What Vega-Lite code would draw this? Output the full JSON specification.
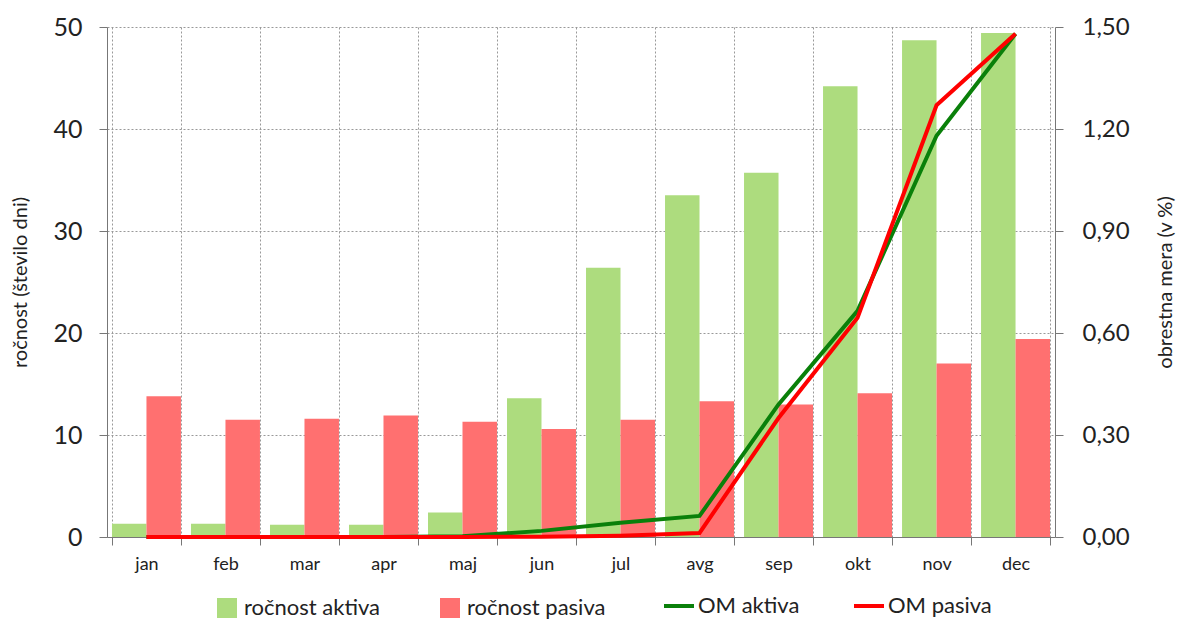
{
  "$schema": "https://vega.github.io/schema/vega-lite/v6.json",
  "autosize": "none",
  "width": 948,
  "height": 510,
  "padding": {"left": 107, "top": 27, "right": 134, "bottom": 82},
  "config": {"font": "Lato", "view": {"stroke": null}},
  "datasets": {
    "bars": [
      {"mesec": "jan", "serija": "ročnost aktiva", "vrednost": 1.3},
      {"mesec": "jan", "serija": "ročnost pasiva", "vrednost": 13.8},
      {"mesec": "feb", "serija": "ročnost aktiva", "vrednost": 1.3},
      {"mesec": "feb", "serija": "ročnost pasiva", "vrednost": 11.5},
      {"mesec": "mar", "serija": "ročnost aktiva", "vrednost": 1.2},
      {"mesec": "mar", "serija": "ročnost pasiva", "vrednost": 11.6},
      {"mesec": "apr", "serija": "ročnost aktiva", "vrednost": 1.2},
      {"mesec": "apr", "serija": "ročnost pasiva", "vrednost": 11.9},
      {"mesec": "maj", "serija": "ročnost aktiva", "vrednost": 2.4},
      {"mesec": "maj", "serija": "ročnost pasiva", "vrednost": 11.3},
      {"mesec": "jun", "serija": "ročnost aktiva", "vrednost": 13.6},
      {"mesec": "jun", "serija": "ročnost pasiva", "vrednost": 10.6},
      {"mesec": "jul", "serija": "ročnost aktiva", "vrednost": 26.4},
      {"mesec": "jul", "serija": "ročnost pasiva", "vrednost": 11.5},
      {"mesec": "avg", "serija": "ročnost aktiva", "vrednost": 33.5},
      {"mesec": "avg", "serija": "ročnost pasiva", "vrednost": 13.3},
      {"mesec": "sep", "serija": "ročnost aktiva", "vrednost": 35.7},
      {"mesec": "sep", "serija": "ročnost pasiva", "vrednost": 13.0},
      {"mesec": "okt", "serija": "ročnost aktiva", "vrednost": 44.2},
      {"mesec": "okt", "serija": "ročnost pasiva", "vrednost": 14.1},
      {"mesec": "nov", "serija": "ročnost aktiva", "vrednost": 48.7},
      {"mesec": "nov", "serija": "ročnost pasiva", "vrednost": 17.0},
      {"mesec": "dec", "serija": "ročnost aktiva", "vrednost": 49.4},
      {"mesec": "dec", "serija": "ročnost pasiva", "vrednost": 19.4}
    ],
    "lines": [
      {"mesec": "jan", "serija": "OM aktiva", "vrednost": 0.0},
      {"mesec": "feb", "serija": "OM aktiva", "vrednost": 0.0},
      {"mesec": "mar", "serija": "OM aktiva", "vrednost": 0.0},
      {"mesec": "apr", "serija": "OM aktiva", "vrednost": 0.0},
      {"mesec": "maj", "serija": "OM aktiva", "vrednost": 0.002},
      {"mesec": "jun", "serija": "OM aktiva", "vrednost": 0.018},
      {"mesec": "jul", "serija": "OM aktiva", "vrednost": 0.042},
      {"mesec": "avg", "serija": "OM aktiva", "vrednost": 0.062},
      {"mesec": "sep", "serija": "OM aktiva", "vrednost": 0.39},
      {"mesec": "okt", "serija": "OM aktiva", "vrednost": 0.665},
      {"mesec": "nov", "serija": "OM aktiva", "vrednost": 1.18},
      {"mesec": "dec", "serija": "OM aktiva", "vrednost": 1.48},
      {"mesec": "jan", "serija": "OM pasiva", "vrednost": 0.0},
      {"mesec": "feb", "serija": "OM pasiva", "vrednost": 0.0},
      {"mesec": "mar", "serija": "OM pasiva", "vrednost": 0.0},
      {"mesec": "apr", "serija": "OM pasiva", "vrednost": 0.0},
      {"mesec": "maj", "serija": "OM pasiva", "vrednost": 0.0},
      {"mesec": "jun", "serija": "OM pasiva", "vrednost": 0.001},
      {"mesec": "jul", "serija": "OM pasiva", "vrednost": 0.004},
      {"mesec": "avg", "serija": "OM pasiva", "vrednost": 0.012},
      {"mesec": "sep", "serija": "OM pasiva", "vrednost": 0.35},
      {"mesec": "okt", "serija": "OM pasiva", "vrednost": 0.645},
      {"mesec": "nov", "serija": "OM pasiva", "vrednost": 1.27},
      {"mesec": "dec", "serija": "OM pasiva", "vrednost": 1.48}
    ]
  },
  "layer": [
    {
      "data": {"name": "bars"},
      "mark": {"type": "bar"},
      "encoding": {
        "x": {
          "field": "mesec", "type": "nominal",
          "sort": ["jan","feb","mar","apr","maj","jun","jul","avg","sep","okt","nov","dec"],
          "scale": {"paddingInner": 0.127, "paddingOuter": 0.063},
          "axis": {
            "title": null, "labelAngle": 0, "tickBand": "extent",
            "labelFontSize": 18, "labelColor": "#222", "labelPadding": 10,
            "domainColor": "#777", "tickColor": "#777", "tickSize": 8,
            "grid": true, "gridColor": "#999", "gridDash": [2, 2], "gridWidth": 1
          }
        },
        "xOffset": {
          "field": "serija", "type": "nominal",
          "sort": ["ročnost aktiva", "ročnost pasiva"],
          "scale": {"paddingInner": 0, "paddingOuter": 0}
        },
        "y": {
          "field": "vrednost", "type": "quantitative",
          "scale": {"domain": [0, 50], "nice": false},
          "axis": {
            "title": "ročnost (število dni)", "titleFontSize": 20, "titleFontWeight": "normal",
            "titleColor": "#222", "titlePadding": 22,
            "values": [0, 10, 20, 30, 40, 50],
            "labelFontSize": 25, "labelColor": "#222", "labelPadding": 17,
            "domainColor": "#777", "tickColor": "#777", "tickSize": 8,
            "grid": true, "gridColor": "#999", "gridDash": [2, 2], "gridWidth": 1
          }
        },
        "fill": {
          "field": "serija", "type": "nominal",
          "scale": {"domain": ["ročnost aktiva", "ročnost pasiva"], "range": ["#ADDC7E", "#FF7070"]},
          "legend": {
            "title": null, "orient": "none", "legendX": 109, "legendY": 570,
            "direction": "horizontal", "symbolType": "square", "symbolSize": 400,
            "symbolStrokeWidth": 0, "labelFontSize": 22, "labelColor": "#222",
            "labelOffset": 6, "columnPadding": 58
          }
        }
      }
    },
    {
      "data": {"name": "lines"},
      "mark": {"type": "line", "strokeWidth": 4},
      "encoding": {
        "x": {
          "field": "mesec", "type": "nominal",
          "sort": ["jan","feb","mar","apr","maj","jun","jul","avg","sep","okt","nov","dec"]
        },
        "y": {
          "field": "vrednost", "type": "quantitative",
          "scale": {"domain": [0, 1.5], "nice": false},
          "axis": {
            "orient": "right",
            "title": "obrestna mera (v %)", "titleFontSize": 20, "titleFontWeight": "normal",
            "titleColor": "#222", "titlePadding": 26, "titleAngle": 270, "titleBaseline": "top",
            "values": [0, 0.3, 0.6, 0.9, 1.2, 1.5],
            "labelExpr": "replace(format(datum.value, '.2f'), '.', ',')",
            "labelFontSize": 24, "labelColor": "#222", "labelPadding": 19,
            "domainColor": "#777", "tickColor": "#777", "tickSize": 8,
            "grid": false
          }
        },
        "stroke": {
          "field": "serija", "type": "nominal",
          "scale": {"domain": ["OM aktiva", "OM pasiva"], "range": ["#0A800A", "#FF0000"]},
          "legend": {
            "title": null, "orient": "none", "legendX": 555, "legendY": 562,
            "direction": "horizontal", "symbolType": "stroke", "symbolSize": 900,
            "symbolStrokeWidth": 4, "labelFontSize": 22, "labelColor": "#222",
            "labelOffset": 2, "columnPadding": 46
          }
        },
        "order": {"field": "serija"}
      }
    }
  ],
  "resolve": {"scale": {"y": "independent"}}
}
